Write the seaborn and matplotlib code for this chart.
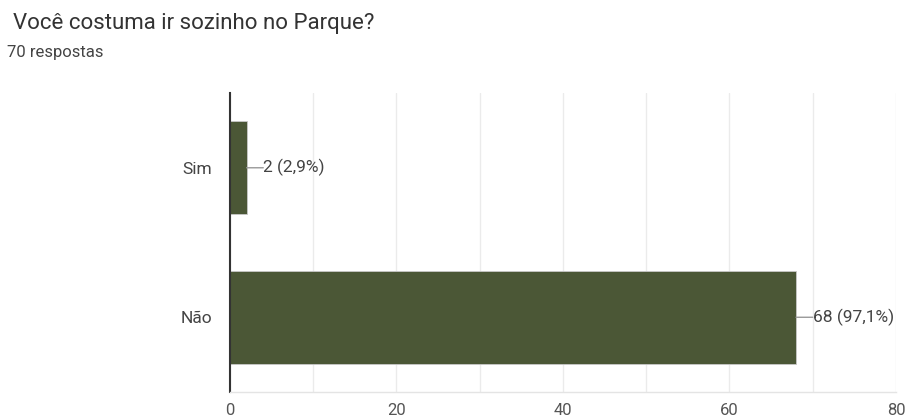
import matplotlib
matplotlib.use("Agg")
import matplotlib.pyplot as plt
import seaborn as sns
import pandas as pd

categories = ["Sim", "Não"]
counts = [2, 68]
labels = ["2 (2,9%)", "68 (97,1%)"]
x_ticks = [0, 20, 40, 60, 80]
x_grid = [0, 10, 20, 30, 40, 50, 60, 70, 80]

df = pd.DataFrame({"resposta": categories, "total": counts})

sns.set_theme(style="white")
plt.rcParams["font.family"] = ["Roboto", "DejaVu Sans"]

fig = plt.figure(figsize=(9.05, 4.19), dpi=100)
ax = fig.add_axes([0.2541, 0.0644, 0.7359, 0.7136])

sns.barplot(data=df, x="total", y="resposta", order=categories, color="#4b5736",
            saturation=1, width=0.62, edgecolor="#c8c8c8", linewidth=0.6, ax=ax)

# grid every 10 units, labels every 20
ax.set_xticks(x_grid, minor=True)
ax.set_xticks(x_ticks)
ax.set_xlim(0, 80)
ax.set_ylim(1.5, -0.5)
ax.grid(axis="x", which="both", color="#ebebeb", linewidth=1)
ax.set_axisbelow(True)

for s in ["top", "right"]:
    ax.spines[s].set_visible(False)
ax.spines["bottom"].set_color("#e4e4e4")
ax.spines["bottom"].set_linewidth(1)
ax.spines["left"].set_color("#333333")
ax.spines["left"].set_linewidth(1.5)

ax.tick_params(axis="x", which="both", length=0, pad=8, labelsize=12, labelcolor="#555555")
ax.tick_params(axis="y", length=0, pad=13, labelsize=12.5, labelcolor="#444444")
ax.set_xlabel("")
ax.set_ylabel("")

# value labels joined to the bar end by a short grey line
for i, (v, lab) in enumerate(zip(counts, labels)):
    ax.annotate(lab, xy=(v, i), xytext=(12, 0), textcoords="offset points",
                va="center", ha="left", fontsize=12.5, color="#444444",
                arrowprops=dict(arrowstyle="-", color="#999999", lw=1,
                                shrinkA=0, shrinkB=0, patchA=None,
                                relpos=(0, 0.5)))

fig.text(0.0144, 0.945, "Você costuma ir sozinho no Parque?", fontsize=16,
         color="#333333", va="center", ha="left")
fig.text(0.0077, 0.875, "70 respostas", fontsize=12, color="#444444",
         va="center", ha="left")

fig.savefig("out.png", dpi=100)
